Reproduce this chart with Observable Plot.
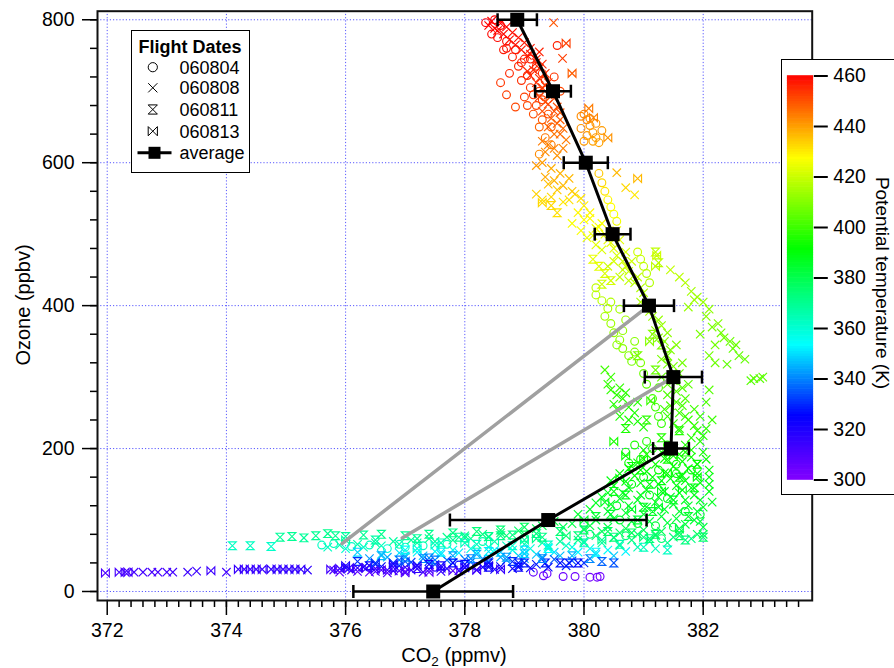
<!DOCTYPE html>
<html><head><meta charset="utf-8">
<script src="https://cdn.jsdelivr.net/npm/d3@7"></script>
<script src="https://cdn.jsdelivr.net/npm/@observablehq/plot@0.6"></script>
<style>
body{margin:0;overflow:hidden;background:#fff;font-family:"Liberation Sans",Arial,sans-serif;}
#wrap{position:relative;width:894px;height:668px;overflow:hidden;}
#wrap svg{position:absolute;left:0;top:0;}
.lab{position:absolute;font-size:20px;white-space:nowrap;color:#000;line-height:20px;}
#cbox{position:absolute;left:781px;top:59px;width:130px;height:436px;border:1.5px solid #000;background:#fff;box-sizing:border-box;}
#cbox svg{position:absolute;left:0;top:0;}
#legend{position:absolute;left:131px;top:30px;width:119px;height:143px;border:1.5px solid #000;background:#fff;box-sizing:border-box;}
</style></head><body><div id="wrap"></div><script>
// ---- data: [CO2 ppmv, Ozone ppbv, potential temperature K]
const flight060804 = [
[378.5,800,460],[378.35,796,460],[378.6,792,459],[378.45,780,459],[378.7,770,458],[378.65,758,457],[378.8,748,456],[378.9,735,455],[378.75,725,455],[378.95,715,454],[379.1,705,453],[379.0,692,452],[379.2,680,451],[379.15,668,450],[379.3,660,449],[379.25,650,447],[379.55,764,456],[378.6,712,453],[378.7,695,452],[378.85,678,451],[379.1,745,456],[379.2,735,455],[379.3,725,454],[379.35,715,453],[379.25,700,452],
[378.55,775,459],[378.7,760,458],[378.85,758,457],[379.0,745,456],[378.95,740,456],[379.05,722,455],[379.15,695,453],[379.3,688,452],[379.05,680,451],[379.4,668,450],[379.45,650,448],[379.6,700,451],[379.5,720,453],
[379.35,635,445],[379.45,625,444],[379.25,612,442],[379.95,665,442],[380.05,660,442],[380.1,652,441],[379.95,648,441],[380.15,642,440],[380.2,635,440],[380.25,628,439],[380.05,638,440],[380.0,668,443],[380.1,662,442],[380.2,655,441],[380.3,645,440],[380.15,630,439],[380.0,630,440],
[380.25,585,434],[380.3,572,432],[380.35,560,430],[380.4,548,428],[380.45,538,427],[380.5,528,426],[380.55,518,425],[380.9,475,420],[380.95,465,419],[381.0,455,418],[381.05,445,417],[381.1,432,416],[380.2,425,418],[380.3,407,417],[380.4,396,416],
[380.35,385,414],[380.45,375,413],[380.5,362,412],[380.6,352,411],[380.65,340,410],[380.75,330,409],[380.8,322,408],[380.55,345,411],[380.2,415,417],[380.45,405,416],[380.6,395,414],[380.7,380,413],[380.65,365,412],[380.85,350,410],[380.85,335,409],[380.95,320,408],[381.0,305,406],[381.05,290,404],[381.25,285,403],
[381.15,270,401],[381.2,258,400],[381.25,245,399],[381.3,235,398],[381.05,210,396],[381.15,200,395],[380.85,205,395],[381.4,205,395],[380.75,180,392],[381.55,178,392],[381.0,160,390],[381.8,170,391],
[380.7,195,394],[380.95,185,393],[381.25,170,392],[381.55,165,391],[380.8,150,389],[381.1,135,388],[381.4,130,387],[381.7,112,385],[381.95,108,384],[380.55,120,386],[380.9,95,384],[381.2,92,383],[381.5,90,382],[380.6,100,384],
[375.6,65,362],[375.8,67,363],[376.1,63,361],[376.4,65,362],[377.0,62,360],[376.7,60,359],[376.9,66,364],[377.3,64,362],[377.7,66,363],[378.3,70,366],[379.0,75,370],[380.1,80,374],[380.7,78,374],[381.3,74,374],
[377.9,37,325],[378.2,35,322],[377.5,34,320],
[379.15,27,306],[379.32,22,304],[379.38,25,305],[379.65,21,304],[379.85,21,304],[380.1,20,303],[380.22,20,303],[380.27,21,303]
];
const flight060808 = [
[378.45,798,460],[378.6,795,460],[378.7,790,459],[378.55,785,459],[378.8,782,458],[378.9,775,458],[379.0,768,457],[379.1,760,457],[379.05,750,456],[379.2,745,456],[379.3,738,455],[379.15,730,455],[379.35,725,454],[379.25,718,454],[379.4,712,453],[379.3,705,452],[379.45,698,452],[379.5,690,451],[379.35,685,450],[379.55,678,450],[379.6,670,449],[379.45,662,448],[379.55,655,447],[379.65,648,446],[379.5,640,445],[379.7,632,444],[379.4,625,443],[379.35,615,442],[379.55,610,441],[379.49,796,449],[379.64,746,452],[379.4,695,451],[379.05,728,455],[379.25,755,456],
[378.4,792,460],[378.5,788,460],[378.65,780,459],[378.75,772,458],[378.85,765,458],[378.95,758,457],[379.1,752,457],[379.2,740,456],[379.25,732,455],[379.1,722,455],[379.2,712,454],[379.35,708,453],[379.45,702,452],[379.25,692,452],[379.4,682,451],[379.5,672,450],[379.3,672,450],[379.6,660,448],[379.4,650,447],[379.6,640,446],[379.3,630,444],[379.5,620,443],[379.65,620,443],
[379.3,600,440],[379.45,592,438],[379.6,585,437],[379.75,578,436],[379.4,570,435],[379.55,562,434],[379.85,556,432],[379.3,548,431],[379.65,545,430],[380.0,540,429],[380.55,586,436],[380.7,565,432],[380.85,555,430],
[379.2,596,440],[379.35,580,438],[379.5,575,437],[379.65,568,436],[379.8,560,434],[379.2,556,433],[379.45,552,432],[379.75,548,431],[379.95,550,431],
[379.9,530,428],[380.1,522,427],[379.8,515,426],[380.2,508,425],[380.35,500,424],[380.05,495,424],[380.45,488,423],[380.3,478,422],[380.55,470,421],[380.65,462,420],[380.4,455,420],[380.75,448,419],[380.6,440,418],[380.85,432,417],[380.95,425,416],[380.0,520,427],[380.25,510,426],[380.15,498,425],[380.5,480,423],[380.7,455,421],[380.55,505,425],
[380.1,530,428],[379.95,505,426],[380.3,515,426],[380.4,492,424],[380.6,492,423],[380.2,485,423],[380.7,475,421],[380.5,462,421],[380.8,462,420],[380.65,450,419],[380.9,440,418],[380.75,435,418],[381.0,418,416],[380.95,405,415],
[381.45,450,418],[381.6,440,417],[381.7,432,416],[381.8,420,414],[381.9,412,413],[382.0,405,412],[382.1,395,411],[381.75,398,412],[382.15,370,408],[382.3,362,407],[382.45,350,406],[382.5,340,405],[382.6,330,405],[382.4,318,404],[382.85,298,404],[382.95,298,404],[383.0,300,404],[382.8,295,403],[382.2,345,407],[381.95,360,408],
[381.85,408,413],[382.05,385,410],[382.25,375,409],[382.35,355,407],[382.55,345,406],[382.7,325,405],[382.1,330,407],[382.2,320,406],[382.1,282,403],[382.05,265,401],[382.15,240,399],[382.1,160,389],[382.1,140,388],[382.15,125,386],[382.0,90,381],[382.0,80,378],
[381.1,392,414],[381.25,380,412],[381.2,365,411],[381.35,350,410],[381.45,338,409],[381.3,325,408],[381.5,315,407],[381.6,305,406],[381.4,290,404],[381.55,280,403],[381.7,270,402],[381.45,260,401],[381.6,250,400],[381.75,240,399],[381.85,232,398],[381.9,225,397],[382.0,218,396],[381.95,210,396],[381.5,295,404],[381.65,285,403],[381.4,275,402],[381.55,265,401],[381.35,255,400],[381.7,245,399],[381.5,235,398],[381.8,215,396],[381.7,205,395],
[381.15,385,413],[381.3,372,412],[381.4,362,411],[381.25,355,410],[381.55,345,409],[381.4,318,407],[381.65,320,407],[381.55,298,405],[381.75,290,404],[381.3,300,405],[381.65,260,401],[381.85,255,400],[381.4,245,399],[381.95,245,399],[381.6,228,397],[382.05,228,397],[381.8,198,395],[382.0,195,394],
[380.45,282,398],[380.55,275,397],[380.65,270,397],[380.5,262,396],[380.75,258,396],[380.85,250,395],[380.6,245,395],[380.9,238,394],[380.4,290,398],[380.6,285,398],[380.7,278,397],[380.9,265,396],[380.55,255,396],[380.75,240,395],[381.0,230,395],[380.45,300,399],[380.35,310,400],
[381.0,198,394],[381.3,195,394],[381.6,192,393],[381.8,188,393],[382.05,185,392],[380.9,180,392],[381.2,178,392],[381.5,175,391],[381.75,172,391],[382.1,170,391],[380.6,165,390],[380.85,162,390],[381.15,160,390],[381.45,158,389],[381.7,155,389],[381.95,152,389],[382.1,150,388],[380.5,148,388],[380.75,145,388],[381.05,142,388],[381.35,140,387],[381.6,138,387],[381.85,135,387],[380.3,132,386],[380.6,130,386],[380.9,128,386],[381.2,125,386],[381.5,122,385],[381.75,120,385],[382.0,118,385],[380.1,115,385],[380.4,112,384],[380.7,110,384],[381.0,108,384],[381.3,105,383],[381.55,102,383],[381.85,100,383],
[381.05,192,394],[381.35,186,393],[381.65,182,392],[381.9,178,392],[380.75,172,391],[381.05,168,391],[381.35,166,390],[381.65,162,390],[381.9,165,390],[380.45,155,389],[380.7,154,389],[380.95,152,389],[381.25,150,388],[381.55,148,388],[381.8,145,388],[380.4,138,387],[380.65,138,387],[380.95,135,387],[381.25,132,387],[381.45,132,386],[381.7,128,386],[381.95,128,386],[380.2,124,386],[380.45,122,385],[380.75,120,385],[381.05,118,385],[381.35,115,385],[381.6,112,384],[381.9,112,384],[379.9,108,384],[380.2,100,383],[380.5,102,383],[380.8,98,383],[381.1,98,382],[381.4,96,382],[381.7,94,382],[381.95,98,382],
[379.5,98,382],[379.8,95,381],[380.1,92,381],[380.4,90,380],[380.7,88,380],[381.0,86,379],[381.3,84,378],[381.6,82,378],[381.9,80,377],[379.2,88,378],[378.9,85,376],[378.6,82,374],[378.3,80,372],[378.0,78,371],[377.7,76,370],[377.4,74,369],[377.1,72,368],[376.8,70,367],[376.5,68,366],[376.2,66,365],[375.9,65,364],[375.7,62,362],[380.2,78,375],[380.5,75,373],[380.8,72,372],[381.1,70,371],[381.4,68,370],[379.9,72,370],[379.6,70,368],[379.3,68,366],[379.0,66,364],[378.7,64,362],[378.4,62,360],[378.1,60,358],[377.8,58,356],[377.5,56,354],[377.2,55,352],[376.9,54,350],[376.6,52,348],[379.8,62,358],[380.1,60,356],[380.4,58,354],[380.7,56,352],[379.5,55,350],[379.2,52,347],[378.9,50,345],[378.6,48,343],[378.3,46,341],
[379.3,92,379],[379.65,90,378],[380.0,88,378],[380.3,84,377],[380.6,82,376],[380.9,80,375],[381.2,78,374],[381.5,76,373],[381.8,74,372],[379.0,80,375],[378.7,78,373],[378.4,76,371],[378.1,74,370],[377.8,72,368],[377.5,70,367],[377.2,68,366],[376.9,66,364],[376.6,64,363],[376.3,62,362],[376.0,60,360],[380.0,70,368],[380.3,68,367],[380.6,64,365],[380.9,62,364],[381.2,60,363],[379.7,64,362],[379.4,62,360],[379.1,60,358],[378.8,58,356],[378.5,58,355],[378.2,56,353],[377.9,54,351],[377.6,52,349],[377.3,50,347],[377.0,50,346],[376.7,48,344],[376.4,46,342],[379.9,55,352],[380.2,52,349],[380.5,50,347],[379.6,50,346],[379.3,48,344],[379.0,46,342],[378.7,44,340],[378.4,42,338],[378.1,41,336],[377.8,40,334],[377.5,38,332],[377.2,37,330],[376.9,36,328],[376.6,35,326],[376.3,34,324],[376.0,33,322],
[378.0,45,338],[377.7,44,336],[377.4,42,334],[377.1,41,332],[376.8,40,330],[376.5,38,328],[379.5,45,335],[379.8,43,333],[380.0,40,330],[379.2,38,328],[378.9,36,326],[378.6,35,324],[378.3,34,322],[378.0,33,320],[377.7,32,318],[377.4,31,316],[377.1,30,314],[376.8,29,312],[376.5,28,310],[376.2,28,308],[375.9,27,306],
[379.7,36,329],[379.4,34,326],[379.1,33,324],[378.8,32,322],[378.5,31,320],[378.2,30,318],[377.9,29,316],[377.6,28,314],[377.3,27,312],[377.0,26,310],[376.7,26,308],[376.4,27,306],[376.1,30,310],[375.8,30,309],
[372.45,27,312],[372.6,27,312],[372.75,27,311],[372.85,27,311],[373.0,27,312],[373.1,27,312],[373.35,27,313],[373.5,28.5,313],[374.0,27,312],[375.36,30,316]
];
const flight060811 = [
[374.1,64,362],[374.4,64,362],[374.75,63,361],[374.9,76,368],[375.1,77,369],[375.3,75,368],[375.5,78,369],[375.7,81,370],[375.83,78,369],[376.0,77,368],[376.3,79,369],[376.6,80,370],[377.0,78,369],[377.4,80,370],[377.8,82,371],[378.2,84,373],[378.6,86,374],[379.0,90,377],
[376.2,55,348],[376.6,50,345],[377.0,48,342],[377.4,47,340],[377.8,50,343],[378.2,52,345],[378.6,55,347],[379.0,58,350],[379.4,60,353],[379.8,50,345],[380.1,46,340],[380.3,42,336],[380.5,40,334],
[378.9,40,328],[379.0,40,328],[379.35,40,327],[379.6,40,327],[379.75,40,327],[379.9,40,326],
[378.0,75,368],[378.4,77,370],[378.8,79,371],[379.2,81,372],[379.6,84,374],[380.0,86,376],[380.4,84,377],[380.8,82,377],[381.2,80,377],[381.6,78,376],[382.0,76,375],[377.6,68,364],[378.2,66,362],[378.8,64,360],[379.4,65,361],[380.0,68,364],[380.6,66,365],[381.0,62,363],[381.4,58,362],[377.0,58,355],[377.6,55,352],[378.4,56,351],[379.0,53,348],[380.2,55,352],
[376.5,72,366],[377.2,74,368],[377.9,76,369],[378.6,78,371],[379.3,76,371],[379.9,78,373],[380.5,76,373],[381.1,74,373],[381.7,72,372],[376.9,44,338],[377.5,44,338],[378.1,46,340],[378.7,48,342],[379.3,46,340],[378.4,34,322],[378.9,34,323],[376.2,42,330],[377.3,46,340],
[376.4,36,322],[376.8,34,318],[377.2,32,316],[377.6,36,320],[378.0,38,324],[378.4,40,327],[378.8,42,330],[377.4,38,322],[377.8,40,325],
[380.8,175,391],[381.1,150,389],[381.4,185,393],[380.5,140,388],[381.0,118,386],[380.2,105,384],[381.3,215,396],[381.5,200,394],[381.7,195,394],[381.9,178,392],[381.6,160,390],[380.95,170,391],[381.3,155,389],[381.85,145,388],[380.7,135,387],[381.5,128,386],[381.15,112,385],[380.45,108,384],[381.75,105,384],[380.9,100,383],
[380.15,465,424],[380.25,455,423],[380.35,445,422],[380.45,435,421],[380.3,430,420],[381.2,475,418],[381.25,460,417],
[381.15,360,410],[381.3,345,409],[381.4,330,408],[381.2,310,406],[381.45,300,405],[380.9,330,408],[380.7,228,395],[381.05,240,397],[381.6,225,396],
[379.45,540,432],[379.55,530,431]
];
const flight060813 = [
[371.97,26,310],[372.2,27,311],[372.3,27,311],[372.35,27,311],[373.74,29,313],[374.2,31,314],[374.3,31,314],[374.4,31,314],[374.5,31,314],[374.6,31,314],[374.75,31,315],[374.85,31,315],[374.95,31,315],[375.05,31,315],[375.15,31,315],[375.25,31,315],[375.75,31,312],[375.9,32,313],[376.05,32,313],[376.2,33,314],[376.35,33,314],[376.5,32,314],[376.7,30,312],[376.9,29,311],[377.2,36,318],[376.8,38,320],[377.0,34,316],
[376.6,30,310],[377.0,28,308],[377.4,27,307],[377.8,29,309],[378.2,30,312],[378.6,31,314],[377.6,33,316],[378.0,34,318],[378.4,36,320],[376.0,36,320],[376.5,40,330],[377.0,42,334],
[379.7,767,452],[379.8,725,448],[380.08,676,444],[380.16,663,443],[380.4,635,441],[380.9,578,436],[379.3,544,432],
[381.22,470,420],[381.2,455,418],[381.1,350,410],[381.12,267,399],[380.7,190,392],[381.3,140,388],[380.0,100,384],[379.7,78,374],
[381.0,185,393],[381.4,165,391],[380.6,158,390],[381.9,160,390],[380.35,125,386],[381.65,142,388],[381.25,118,385],[380.8,115,385],[380.5,210,394],[381.5,190,393],
[377.5,65,361],[378.0,68,363],[378.5,70,365],[379.0,72,367],[376.0,72,367],[377.2,60,358],[379.2,74,370],[380.3,72,370],[381.0,76,374],[381.6,88,380]
];
// averages
const avgO3  = [0, 100, 200, 300, 400, 500, 600, 700, 800];
const avgCO2 = [377.47, 379.40, 381.46, 381.50, 381.09, 380.48, 380.03, 379.48, 378.88];
const avgErr = [1.34, 1.65, 0.30, 0.48, 0.42, 0.30, 0.37, 0.30, 0.33];
// gray mixing lines [CO2, O3]
const mixLine1 = [[375.94, 67], [381.09, 400]];
const mixLine2 = [[376.95, 75], [381.50, 300]];
// ticks
const xTicks = [372, 374, 376, 378, 380, 382];
const yTicks = [0, 200, 400, 600, 800];
const thetaTicks = [300, 320, 340, 360, 380, 400, 420, 440, 460];
const flightNames = ["060804", "060808", "060811", "060813"];
// colour table
const colorStops = [300, 325, 353, 391, 427, 460];
const colorRange = ["#8000ff", "#0000ff", "#00ffff", "#00ff00", "#ffff00", "#ff0000"];

// ---- build
const toObj = a => a.map(([co2, o3, theta]) => ({co2, o3, theta}));
const avg = avgO3.map((o3, i) => ({o3, co2: avgCO2[i], lo: avgCO2[i] - avgErr[i], hi: avgCO2[i] + avgErr[i]}));
const mix1 = mixLine1.map(([co2, o3]) => ({co2, o3}));
const mix2 = mixLine2.map(([co2, o3]) => ({co2, o3}));
const xMinor = d3.range(0, 59).map(i => 372.2 + i * 0.2).filter(v => v < 383.7);
const yMinor = d3.range(0, 21).map(i => i * 40);

const rad = s => Math.sqrt(s / Math.PI);
const hourglass = {draw(c, s){const r = rad(s); c.moveTo(-r,-r); c.lineTo(r,-r); c.lineTo(-r,r); c.lineTo(r,r); c.closePath();}};
const bowtie = {draw(c, s){const r = rad(s); c.moveTo(-r,-r); c.lineTo(-r,r); c.lineTo(r,-r); c.lineTo(r,r); c.closePath();}};
const cap = {draw(c, s){const r = rad(s); c.moveTo(0,-r); c.lineTo(0,r);}};

const colorScale = {type: "linear", domain: colorStops, range: colorRange, interpolate: "rgb"};
const font = "'Liberation Sans', Arial, Helvetica, sans-serif";
const grid = {stroke: "#5a5aff", strokeOpacity: 1, strokeWidth: 1, strokeDasharray: "1.2,2"};
const dotOpt = {x: "co2", y: "o3", stroke: "theta", fill: "none", r: 3.9, strokeWidth: 1.15};

const main = Plot.plot({
  width: 894, height: 668,
  marginLeft: 97, marginRight: 82.3, marginTop: 10.7, marginBottom: 68,
  style: {fontFamily: font, fontSize: "19.5px", background: "transparent", color: "#000"},
  x: {domain: [371.837, 383.829]},
  y: {domain: [-12.6, 812]},
  color: colorScale,
  marks: [
    Plot.gridX(xTicks, grid),
    Plot.gridY(yTicks, grid),
    Plot.dot(toObj(flight060804), {...dotOpt, symbol: "circle"}),
    Plot.dot(toObj(flight060808), {...dotOpt, symbol: "times"}),
    Plot.dot(toObj(flight060811), {...dotOpt, symbol: hourglass}),
    Plot.dot(toObj(flight060813), {...dotOpt, symbol: bowtie}),
    Plot.line(mix1, {x: "co2", y: "o3", stroke: "#a0a0a0", strokeWidth: 3.5}),
    Plot.line(mix2, {x: "co2", y: "o3", stroke: "#a0a0a0", strokeWidth: 3.5}),
    Plot.ruleY(avg, {y: "o3", x1: "lo", x2: "hi", stroke: "#000", strokeWidth: 2.5}),
    Plot.dot(avg, {x: "lo", y: "o3", symbol: cap, r: 6.5, stroke: "#000", strokeWidth: 2.5}),
    Plot.dot(avg, {x: "hi", y: "o3", symbol: cap, r: 6.5, stroke: "#000", strokeWidth: 2.5}),
    Plot.line(avg, {x: "co2", y: "o3", stroke: "#000", strokeWidth: 3}),
    Plot.dot(avg, {x: "co2", y: "o3", symbol: "square", r: 7.9, fill: "#000", stroke: "none"}),
    Plot.axisX(xTicks, {tickSize: 15, tickPadding: 8, strokeWidth: 1.5, label: null, fontSize: 19.5}),
    Plot.axisX(xMinor, {tickSize: 7, text: null, strokeWidth: 1.5, label: null}),
    Plot.axisY(yTicks, {tickSize: 15, tickPadding: 8, strokeWidth: 1.5, label: null, fontSize: 19.5}),
    Plot.axisY(yMinor, {tickSize: 7, text: null, strokeWidth: 1.5, label: null}),
    Plot.frame({stroke: "#111", strokeWidth: 2})
  ]
});

const wrap = document.getElementById("wrap");
wrap.appendChild(main);

// axis titles
const xl = document.createElement("div");
xl.className = "lab";
xl.innerHTML = 'CO<sub style="font-size:13.5px;line-height:0;vertical-align:-4px">2</sub> (ppmv)';
xl.style.left = "454px"; xl.style.top = "645px"; xl.style.transform = "translateX(-50%)";
wrap.appendChild(xl);
const yl = document.createElement("div");
yl.className = "lab";
yl.textContent = "Ozone (ppbv)";
yl.style.left = "23px"; yl.style.top = "305px"; yl.style.transform = "translate(-50%,-50%) rotate(-90deg)";
wrap.appendChild(yl);

// colour bar
const cbox = document.createElement("div");
cbox.id = "cbox";
wrap.appendChild(cbox);
const bands = d3.range(0, 160).map(i => ({t0: 300 + i, t1: 301 + i}));
const cb = Plot.plot({
  width: 127, height: 433,
  marginLeft: 5.2, marginRight: 96.2, marginTop: 15.5, marginBottom: 13.5,
  style: {fontFamily: font, fontSize: "19.5px", background: "transparent", color: "#000", overflow: "visible"},
  x: {domain: [0, 1], axis: null},
  y: {domain: [300, 460]},
  color: colorScale,
  marks: [
    Plot.rect(bands, {x1: 0, x2: 1, y1: "t0", y2: "t1", fill: "t0", inset: -0.3}),
    Plot.axisY(thetaTicks, {anchor: "right", tickSize: 14, tickPadding: 6, strokeWidth: 2, label: null, fontSize: 19.5}),
    Plot.text(["Potential temperature (K)"], {frameAnchor: "right", dx: 68.5, dy: 5, rotate: 90, textAnchor: "middle", lineAnchor: "middle", fontSize: 19, text: d => d})
  ]
});
cbox.appendChild(cb);

// legend
const lg = document.createElement("div");
lg.id = "legend";
const sx = 20.8, tx = 47.5, rows = [36.2, 56.8, 78.5, 100.2, 121.8], k = 4.6;
const glyphs = [
  `<circle cx="${sx}" cy="${rows[0]}" r="${k}" fill="none" stroke="#000"/>`,
  `<path d="M${sx-k},${rows[1]-k}L${sx+k},${rows[1]+k}M${sx+k},${rows[1]-k}L${sx-k},${rows[1]+k}" stroke="#000" fill="none"/>`,
  `<path d="M${sx-k},${rows[2]-k}L${sx+k},${rows[2]-k}L${sx-k},${rows[2]+k}L${sx+k},${rows[2]+k}Z" stroke="#000" fill="none"/>`,
  `<path d="M${sx-k},${rows[3]-k}L${sx-k},${rows[3]+k}L${sx+k},${rows[3]-k}L${sx+k},${rows[3]+k}Z" stroke="#000" fill="none"/>`
];
let svg = `<svg width="116" height="140" style="font-family:${font};font-size:18px">`;
svg += `<text x="58" y="22" text-anchor="middle" font-weight="bold">Flight Dates</text>`;
flightNames.forEach((n, i) => { svg += glyphs[i] + `<text x="${tx}" y="${rows[i] + 6.3}">${n}</text>`; });
svg += `<line x1="5.5" x2="39.5" y1="${rows[4]}" y2="${rows[4]}" stroke="#000" stroke-width="3"/>`;
svg += `<rect x="16.5" y="${rows[4]-6}" width="12" height="12" fill="#000"/>`;
svg += `<text x="${tx}" y="${rows[4] + 6.3}">average</text></svg>`;
lg.innerHTML = svg;
wrap.appendChild(lg);
</script></body></html>
